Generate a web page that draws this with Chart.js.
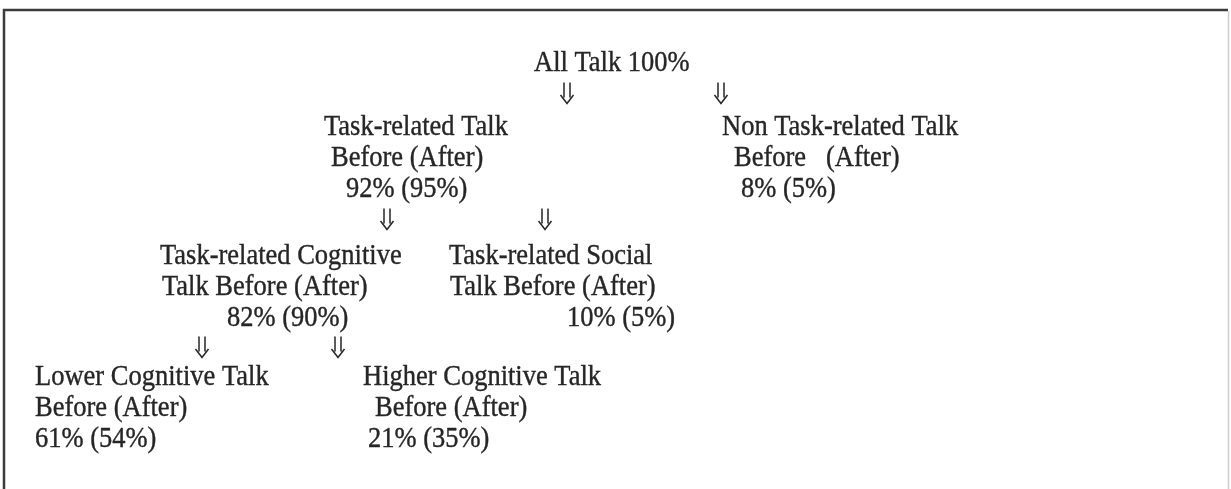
<!DOCTYPE html>
<html>
<head>
<meta charset="utf-8">
<script src="https://cdn.jsdelivr.net/npm/chart.js@4/dist/chart.umd.min.js"></script>
<style>
  html,body{margin:0;padding:0;background:#fff;}
  #wrap{width:1231px;height:489px;}
</style>
</head>
<body>
<div id="wrap"><canvas id="treeChart" width="1231" height="489"></canvas></div>
<script>
// talk categories, before/after percentages, tree links
const nodeNames = ["All Talk","Task-related Talk","Non Task-related Talk","Task-related Cognitive Talk","Task-related Social Talk","Lower Cognitive Talk","Higher Cognitive Talk"];
const beforePct = [100, 92, 8, 82, 10, 61, 21];
const afterPct  = [null, 95, 5, 90, 5, 54, 35];
const parentOf  = [null, 0, 0, 1, 1, 3, 3];

// layout only: baseline of first line, left edge of each line, arrow centre
const layout = [
  { y:71,  x:[534],           arrow:null },
  { y:135, x:[324, 331, 346], arrow:[567, 93] },
  { y:135, x:[722, 734, 741], arrow:[721, 93] },
  { y:264, x:[160, 162, 227], arrow:[387, 219] },
  { y:264, x:[449, 450, 567], arrow:[545, 219] },
  { y:385, x:[35, 35, 35],    arrow:[202, 347] },
  { y:385, x:[363, 375, 368], arrow:[338, 347] },
];
const LINE = 31;

function linesFor(i) {
  const name = nodeNames[i], b = beforePct[i], a = afterPct[i];
  if (a == null) return [name + " " + b + "%"];
  const pct = b + "% (" + a + "%)";
  if (i === 3 || i === 4) {
    const w = name.split(" ");
    const last = w.pop();
    return [w.join(" "), last + " Before (After)", pct];
  }
  if (i === 2) return [name, "Before   (After)", pct];
  return [name, "Before (After)", pct];
}

const C = { ink:"#262626", frame:"#3c3c3c", frameLight:"#cfcfcf" };

const treePlugin = {
  id:"tree",
  afterDatasetsDraw(chart) {
    const ctx = chart.ctx, xs = chart.scales.x, ys = chart.scales.y;
    ctx.save();
    // frame
    ctx.strokeStyle = C.frame; ctx.lineWidth = 2.5;
    ctx.beginPath();
    ctx.moveTo(xs.getPixelForValue(4), ys.getPixelForValue(489));
    ctx.lineTo(xs.getPixelForValue(4), ys.getPixelForValue(10));
    ctx.lineTo(xs.getPixelForValue(1228), ys.getPixelForValue(10));
    ctx.stroke();
    ctx.strokeStyle = C.frameLight; ctx.lineWidth = 1.5;
    ctx.beginPath();
    ctx.moveTo(xs.getPixelForValue(1228.5), ys.getPixelForValue(11));
    ctx.lineTo(xs.getPixelForValue(1228.5), ys.getPixelForValue(489));
    ctx.stroke();

    // node texts
    ctx.fillStyle = C.ink; ctx.strokeStyle = C.ink; ctx.lineWidth = 0.35;
    ctx.font = "26.5px 'Liberation Serif', 'Times New Roman', serif";
    ctx.textBaseline = "alphabetic";
    ctx.textAlign = "left";
    chart.data.datasets[0].data.forEach((p, i) => {
      linesFor(i).forEach((t, k) => {
        const px = xs.getPixelForValue(layout[i].x[k]);
        const py = ys.getPixelForValue(p.y + k * LINE);
        ctx.save();
        ctx.translate(px, py);
        ctx.scale(1, 1.13);
        ctx.fillText(t, 0, 0);
        ctx.strokeText(t, 0, 0);
        ctx.restore();
      });
    });

    // double arrows from parent to child
    ctx.strokeStyle = C.ink; ctx.lineWidth = 1.5; ctx.lineJoin = "miter";
    parentOf.forEach((par, i) => {
      if (par == null) return;
      const [ax, ay] = layout[i].arrow;
      const cx = xs.getPixelForValue(ax);
      const top = ys.getPixelForValue(ay - 10.5), bot = ys.getPixelForValue(ay + 10.5);
      ctx.beginPath();
      ctx.moveTo(cx - 3, top); ctx.lineTo(cx - 3, bot - 6);
      ctx.moveTo(cx + 3, top); ctx.lineTo(cx + 3, bot - 6);
      ctx.moveTo(cx - 6.5, bot - 8.5); ctx.lineTo(cx, bot); ctx.lineTo(cx + 6.5, bot - 8.5);
      ctx.stroke();
    });
    ctx.restore();
  }
};

new Chart(document.getElementById("treeChart"), {
  type:"scatter",
  data:{ datasets:[{ data:nodeNames.map((n, i) => ({ x:layout[i].x[0], y:layout[i].y })), pointRadius:0, pointHoverRadius:0 }] },
  options:{
    responsive:false, animation:false, events:[],
    layout:{ padding:0 },
    plugins:{ legend:{display:false}, tooltip:{enabled:false} },
    scales:{
      x:{ type:"linear", min:0, max:1231, display:false },
      y:{ type:"linear", min:0, max:489, reverse:true, display:false },
    },
  },
  plugins:[treePlugin],
});
</script>
</body>
</html>
